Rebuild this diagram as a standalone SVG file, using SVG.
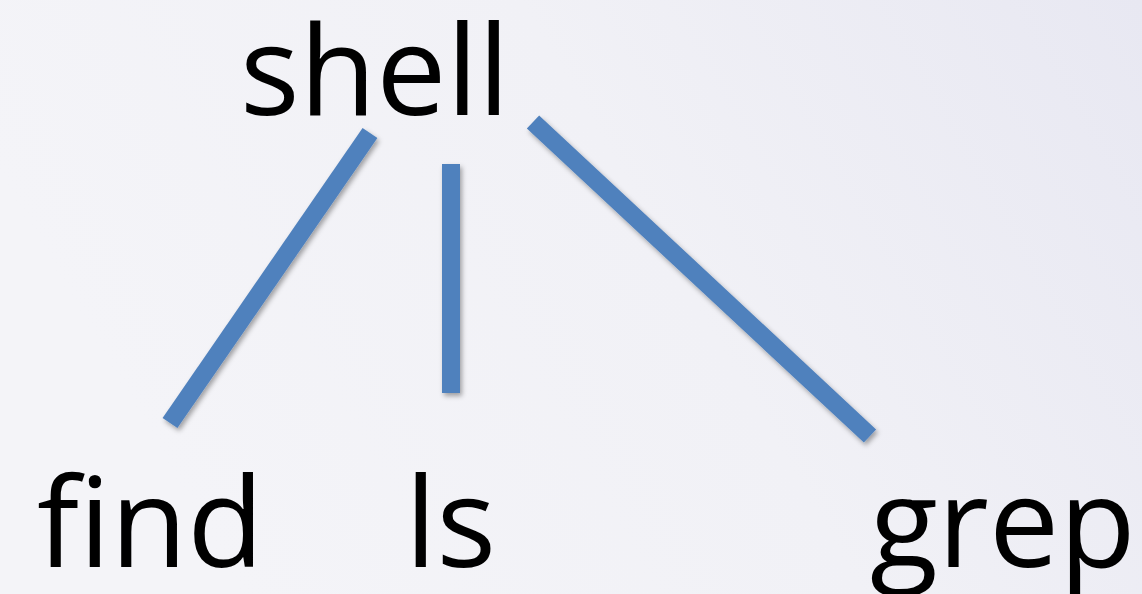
<svg xmlns="http://www.w3.org/2000/svg" width="1142" height="594" viewBox="0 0 1142 594">
<defs>
<linearGradient id="bg" x1="0" y1="0.3" x2="1" y2="0">
<stop offset="0" stop-color="#F4F4F8"/>
<stop offset="0.5" stop-color="#F1F1F6"/>
<stop offset="1" stop-color="#E8E8F2"/>
</linearGradient>
<filter id="sh" filterUnits="userSpaceOnUse" x="0" y="0" width="1142" height="594">
<feDropShadow dx="2" dy="3" stdDeviation="2.5" flood-color="#000" flood-opacity="0.35"/>
</filter>
<style>
.lbl{font-family:"Open Sans","Noto Sans","DejaVu Sans",sans-serif;font-size:125px;fill:#000}
.edge{stroke:#4F81BD;stroke-width:18;stroke-linecap:butt;fill:none;filter:url(#sh)}
</style>
</defs>
<rect width="1142" height="594" fill="url(#bg)"/>
<g id="connectors">
<line class="edge" x1="370" y1="133" x2="170" y2="423"/>
<line class="edge" x1="451" y1="164" x2="451" y2="393"/>
<line class="edge" x1="533" y1="122" x2="870" y2="436"/>
</g>
<g id="shell"><text class="lbl" x="240" y="115">shell</text></g>
<g id="find"><text class="lbl" x="37" y="567">find</text></g>
<g id="ls"><text class="lbl" x="405" y="567">ls</text></g>
<g id="grep"><text class="lbl" x="870" y="567">grep</text></g>
</svg>
